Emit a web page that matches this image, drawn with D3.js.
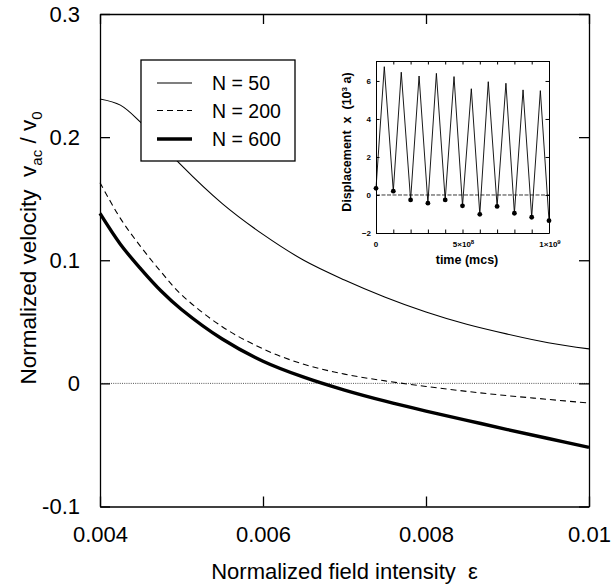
<!DOCTYPE html>
<html><head><meta charset="utf-8">
<script src="https://cdn.jsdelivr.net/npm/d3@7"></script>
<style>html,body{margin:0;padding:0;background:#fff;} svg{display:block;font-family:"Liberation Sans",Arial,Helvetica,sans-serif;} text{white-space:pre;}</style>
</head><body><svg id="c" width="612" height="586"></svg>
<script>
// ---------- data ----------
const eps = [0.004,0.00425,0.0045,0.00475,0.005,0.0055,0.006,0.0065,0.007,0.0075,0.008,0.0085,0.009,0.0095,0.01];
const vN50  = [0.231,0.226,0.212,0.195,0.177,0.146,0.121,0.100,0.084,0.070,0.058,0.048,0.040,0.033,0.028];
const vN200 = [0.163,0.134,0.111,0.0905,0.072,0.046,0.028,0.0155,0.0075,0.002,-0.0025,-0.0065,-0.0100,-0.0130,-0.016];
const vN600 = [0.138,0.113,0.093,0.075,0.060,0.036,0.018,0.005,-0.0055,-0.0145,-0.0225,-0.030,-0.0375,-0.0448,-0.052];
const seriesLabels = ["N = 50","N = 200","N = 600"];
const xTicks = [0.004,0.006,0.008,0.01];
const xTickLabels = ["0.004","0.006","0.008","0.01"];
const yTicks = [-0.1,0,0.1,0.2,0.3];
const yTickLabels = ["-0.1","0","0.1","0.2","0.3"];

// inset: displacement vs time
const insetMinT = [0,1e8,2e8,3e8,4e8,5e8,6e8,7e8,8e8,9e8,1e9];
const insetMinX = [0.35,0.2,-0.26,-0.43,-0.26,-0.57,-1.02,-0.6,-0.96,-1.17,-1.35];
const insetPeakT = [0.48e8,1.46e8,2.49e8,3.49e8,4.51e8,5.51e8,6.49e8,7.51e8,8.5e8,9.5e8];
const insetPeakX = [6.75,6.46,6.26,6.4,6.23,5.59,5.96,5.88,5.53,5.49];
const insetYTicks = [-2,0,2,4,6];
const insetXTicks = [0,5e8,1e9];

// ---------- layout ----------
const svg = d3.select("#c");
const L = 100, R = 589, T = 14, B = 506.5;
const x = d3.scaleLinear().domain([0.004,0.01]).range([L,R]);
const y = d3.scaleLinear().domain([-0.1,0.3]).range([B,T]);

// zero line (dotted)
svg.append("line").attr("x1",L).attr("x2",R).attr("y1",y(0)).attr("y2",y(0))
  .attr("stroke","#444").attr("stroke-width",0.9).attr("stroke-dasharray","1,1.2");

// curves
const series = [
  {v:vN50, w:1.1, dash:null},
  {v:vN200, w:1.1, dash:"6,4"},
  {v:vN600, w:3.4, dash:null}
];
const line = d3.line().x(d=>x(d[0])).y(d=>y(d[1])).curve(d3.curveCatmullRom.alpha(0.5));
series.forEach(s=>{
  svg.append("path").datum(eps.map((e,i)=>[e,s.v[i]]))
    .attr("d",line).attr("fill","none").attr("stroke","#000")
    .attr("stroke-width",s.w).attr("stroke-dasharray",s.dash);
});

// frame + inward ticks on all four sides
const axisG = svg.append("g");
axisG.append("g").attr("transform",`translate(0,${B})`)
  .call(d3.axisBottom(x).tickValues(xTicks).tickSizeInner(-10).tickSizeOuter(0).tickFormat((d,i)=>xTickLabels[i]).tickPadding(20));
axisG.append("g").attr("transform",`translate(0,${T})`)
  .call(d3.axisTop(x).tickValues(xTicks).tickSizeInner(-10).tickSizeOuter(0).tickFormat(""));
axisG.append("g").attr("transform",`translate(${L},0)`)
  .call(d3.axisLeft(y).tickValues(yTicks).tickSizeInner(-10).tickSizeOuter(0).tickFormat((d,i)=>yTickLabels[i]).tickPadding(20));
axisG.append("g").attr("transform",`translate(${R},0)`)
  .call(d3.axisRight(y).tickValues(yTicks).tickSizeInner(-10).tickSizeOuter(0).tickFormat(""));
axisG.selectAll(".domain,.tick line").attr("stroke","#000").attr("stroke-width",1.3);
axisG.selectAll(".tick text").attr("font-size",22).attr("fill","#000").attr("font-family","Liberation Sans, Arial, sans-serif");

// axis titles
svg.append("text").attr("x",(L+R)/2).attr("y",579).attr("text-anchor","middle")
  .attr("font-size",22).text("Normalized field intensity  ε");
const yt = svg.append("text").attr("transform","translate(36,248) rotate(-90)")
  .attr("text-anchor","middle").attr("font-size",22.5);
yt.append("tspan").text("Normalized velocity  v");
yt.append("tspan").attr("font-size",15).attr("dy",6).text("ac");
yt.append("tspan").attr("dy",-6).text(" / v");
yt.append("tspan").attr("font-size",15).attr("dy",6).text("0");

// legend
const lg = svg.append("g");
lg.append("rect").attr("x",141).attr("y",60).attr("width",154).attr("height",101)
  .attr("fill","#fff").attr("stroke","#000").attr("stroke-width",1.3);
const legY = [83,110.5,139];
series.forEach((s,i)=>{
  lg.append("line").attr("x1",157).attr("x2",192).attr("y1",legY[i]).attr("y2",legY[i])
    .attr("stroke","#000").attr("stroke-width",s.w).attr("stroke-dasharray",s.dash);
  lg.append("text").attr("x",212).attr("y",legY[i]+7).attr("font-size",19.5).text(seriesLabels[i]);
});

// ---------- inset ----------
const iL=376, iR=549, iT=61, iB=233;
const ix = d3.scaleLinear().domain([0,1e9]).range([iL,iR]);
const iy = d3.scaleLinear().domain([-2,7.05]).range([iB,iT]);
const ig = svg.append("g");
ig.append("line").attr("x1",iL).attr("x2",iR).attr("y1",iy(0)).attr("y2",iy(0))
  .attr("stroke","#222").attr("stroke-width",0.9).attr("stroke-dasharray","4,1.5");
const pts = [];
insetMinT.forEach((t,i)=>{
  pts.push([t,insetMinX[i]]);
  if(i<insetPeakT.length) pts.push([insetPeakT[i],insetPeakX[i]]);
});
ig.append("path").datum(pts)
  .attr("d",d3.line().x(d=>ix(d[0])).y(d=>iy(d[1])))
  .attr("fill","none").attr("stroke","#000").attr("stroke-width",0.9);
ig.selectAll("circle").data(insetMinT.map((t,i)=>[t,insetMinX[i]])).join("circle")
  .attr("cx",d=>ix(d[0])).attr("cy",d=>iy(d[1])).attr("r",2.4).attr("fill","#000");
const minorT = d3.range(0,1e9+1,1e8);
const iax = ig.append("g");
iax.append("g").attr("transform",`translate(0,${iB})`)
  .call(d3.axisBottom(ix).tickValues(minorT).tickSizeInner(-3.5).tickSizeOuter(0).tickFormat(""));
iax.append("g").attr("transform",`translate(0,${iT})`)
  .call(d3.axisTop(ix).tickValues(minorT).tickSizeInner(-3.5).tickSizeOuter(0).tickFormat(""));
iax.append("g").attr("transform",`translate(${iL},0)`)
  .call(d3.axisLeft(iy).tickValues(insetYTicks).tickSizeInner(-3.5).tickSizeOuter(0).tickPadding(5).tickFormat(d3.format("d")));
iax.append("g").attr("transform",`translate(${iR},0)`)
  .call(d3.axisRight(iy).tickValues(insetYTicks).tickSizeInner(-3.5).tickSizeOuter(0).tickFormat(""));
iax.selectAll(".domain,.tick line").attr("stroke","#000").attr("stroke-width",1);
iax.selectAll(".tick text").attr("font-size",8).attr("font-weight","bold").attr("fill","#000").attr("font-family","Liberation Sans, Arial, sans-serif");
const ixl = ig.append("g").attr("font-size",8).attr("font-weight","bold").attr("text-anchor","middle");
const mant = ["0","5×10","1×10"], sup = ["","8","9"];
insetXTicks.forEach((t,i)=>{
  const tx = ixl.append("text").attr("x",ix(t)+(i? 1:0)).attr("y",iB+14);
  tx.append("tspan").text(mant[i]);
  if(sup[i]) tx.append("tspan").attr("dy",-3).attr("font-size",6).text(sup[i]);
});
ig.append("text").attr("x",467).attr("y",264).attr("text-anchor","middle")
  .attr("font-size",12.5).attr("font-weight","bold").text("time (mcs)");
const iyt = ig.append("text").attr("transform","translate(351,142) rotate(-90)")
  .attr("text-anchor","middle").attr("font-size",12.5).attr("font-weight","bold");
iyt.append("tspan").text("Displacement  x  (10");
iyt.append("tspan").attr("dy",-4).attr("font-size",8).text("3");
iyt.append("tspan").attr("dy",4).text(" a)");
</script></body></html>
